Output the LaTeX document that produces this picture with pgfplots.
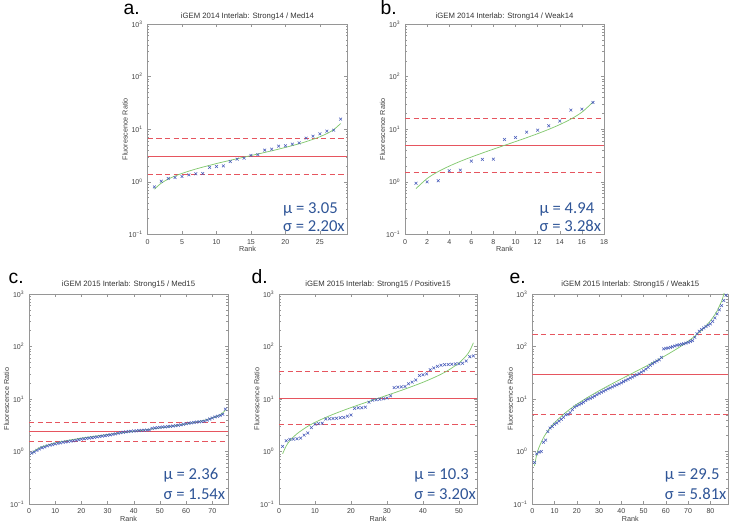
\documentclass[border=0pt]{standalone}
\usepackage{pgfplots}
\pgfplotsset{compat=1.18}
\usepackage{fontspec}
\setmainfont{Liberation Sans}
\newfontfamily\calib{Carlito}
\definecolor{mblue}{RGB}{70,90,185}
\definecolor{mred}{RGB}{230,85,95}
\definecolor{mgreen}{RGB}{130,200,110}
\definecolor{txtblue}{RGB}{47,85,151}
\definecolor{axgray}{RGB}{150,150,150}
\newcommand\tp[1]{10\textsuperscript{#1}}
\pgfplotsset{
  every axis/.append style={
    scale only axis, height=157.5pt,
    ymode=log, ymin=0.1, ymax=1000, xmin=0,
    ytick={0.1,1,10,100,1000},
    yticklabels={\tp{−1},\tp{0},\tp{1},\tp{2},\tp{3}},
    tick align=inside,
    axis line style={axgray, line width=0.4pt},
    tick style={axgray, line width=0.35pt},
    major tick length=2.5pt, minor tick length=1.4pt,
    xticklabel style={/pgf/number format/assume math mode=true},
    tick label style={font=\fontsize{5.3}{6}\selectfont, text=black!75},
    xlabel style={font=\fontsize{5.4}{6}\selectfont, text=black!75, at={(axis description cs:0.5,-0.07)}, anchor=center},
    ylabel style={font=\fontsize{5.4}{6}\selectfont, text=black!75, at={(axis description cs:-0.1125,0.5)}, anchor=center},
    xlabel={Rank}, ylabel={Fluorescence Ratio},
  },
  mydat/.style={only marks, mark=x, mark size=1.5pt, color=mblue, mark options={line width=0.4pt}},
  myfit/.style={color=mgreen, line width=0.55pt, no marks, smooth},
  mymean/.style={color=mred, draw=mred, line width=0.75pt, line cap=butt, no marks},
  myband/.style={color=mred, draw=mred, line width=0.75pt, line cap=butt, dash pattern=on 4pt off 2.5pt, no marks},
}
\tikzset{myann/.style={anchor=base west, font=\calib\fontsize{12.5}{13}\selectfont, text=txtblue},
  mytitle/.style={anchor=base, font=\fontsize{5.8}{6}\selectfont, text=black!80},
  mylet/.style={anchor=base west, font=\fontsize{14.5}{15}\selectfont}}
\begin{document}
\begin{tikzpicture}
\path[use as bounding box] (0,0) rectangle (549.75pt,392.25pt);
\node[mylet] at (89.25pt,381pt) {a.};
\node[mylet] at (282pt,381pt) {b.};
\node[mylet] at (3pt,179.25pt) {c.};
\node[mylet] at (185.25pt,179.25pt) {d.};
\node[mylet] at (378.75pt,179.25pt) {e.};
\node[mytitle] at (185.6pt,378.3pt) {iGEM 2014 Interlab: Strong14 / Med14};
\node[mytitle] at (378.4pt,378.3pt) {iGEM 2014 Interlab: Strong14 / Weak14};
\node[mytitle] at (96.4pt,177.5pt) {iGEM 2015 Interlab: Strong15 / Med15};
\node[mytitle] at (283.5pt,177.5pt) {iGEM 2015 Interlab: Strong15 / Positive15};
\node[mytitle] at (472.7pt,177.5pt) {iGEM 2015 Interlab: Strong15 / Weak15};

% ---------- a ----------
\begin{axis}[at={(110.625pt,216.375pt)}, anchor=south west, width=150pt, height=157.9pt,
  xmax=29, xtick={0,5,10,15,20,25}]
\addplot[mymean] coordinates {(0,3.05) (29,3.05)};
\addplot[myband] coordinates {(0,6.71) (29,6.71)};
\addplot[myband] coordinates {(0,1.386) (29,1.386)};
\addplot[myfit] coordinates {(1,0.727)(2,0.947)(3,1.128)(4,1.291)(5,1.448)(7,1.753)(10,2.227)(12,2.568)(14.5,3.05)(17,3.622)(19,4.178)(22,5.305)(24,6.425)(25,7.20)(26,8.25)(27,9.82)(28,12.80)};
\addplot[mydat] table[x expr=\coordindex+1, y index=0, header=false] {
0.80
1.03
1.16
1.21
1.27
1.36
1.42
1.44
1.88
1.96
2.01
2.44
2.70
2.82
3.18
3.29
4.01
4.19
4.77
4.85
5.21
5.51
6.77
7.39
8.18
9.20
9.61
15.6
};
\node[myann] at (rel axis cs:0.655,0.101) {μ = 3.05};
\node[myann] at (rel axis cs:0.655,0.013) {σ = 2.20x};
\end{axis}

% ---------- b ----------
\begin{axis}[at={(303.75pt,216.375pt)}, anchor=south west, width=149.25pt, height=157.9pt,
  xmax=18, xtick={0,2,...,18}]
\addplot[myband] coordinates {(0,16.20) (18,16.20)};
\addplot[myband] coordinates {(0,1.506) (18,1.506)};
\addplot[mymean] coordinates {(0,4.94) (18,4.94)};
\addplot[myfit] coordinates {(1,0.745)(2,1.158)(3,1.566)(4,1.991)(5,2.454)(6,2.961)(7,3.533)(8,4.185)(9,4.94)(10,5.832)(11,6.907)(12,8.240)(13,9.944)(14,12.255)(15,15.58)(16,21.07)(17,32.76)};
\addplot[mydat] table[x expr=\coordindex+1, y index=0, header=false] {
0.94
1.00
1.05
1.62
1.67
2.48
2.67
2.70
6.40
6.98
8.81
9.6
11.6
14.3
23.1
24.1
32.3
};
\node[myann] at (rel axis cs:0.653,0.101) {μ = 4.94};
\node[myann] at (rel axis cs:0.653,0.013) {σ = 3.28x};
\end{axis}

% ---------- c ----------
\begin{axis}[at={(21.75pt,14.25pt)}, anchor=south west, width=149.25pt,
  xmax=76, xtick={0,10,...,70}]
\addplot[mymean] coordinates {(0,2.36) (76,2.36)};
\addplot[myband] coordinates {(0,3.634) (76,3.634)};
\addplot[myband] coordinates {(0,1.532) (76,1.532)};
\addplot[myfit] coordinates {(1,0.905)(2,1.022)(3,1.105)(5,1.231)(10,1.456)(15,1.634)(20,1.795)(25,1.949)(30,2.103)(35,2.261)(38,2.36)(41,2.463)(46,2.648)(51,2.857)(56,3.103)(61,3.408)(66,3.833)(71,4.525)(73,5.04)(74,5.45)(75,6.155)};
\addplot[mydat] table[x expr=\coordindex+1, y index=0, header=false] {
0.93
0.98
1.05
1.12
1.18
1.22
1.28
1.32
1.35
1.40
1.43
1.46
1.50
1.52
1.55
1.58
1.60
1.63
1.67
1.72
1.75
1.78
1.80
1.83
1.87
1.90
1.93
1.97
2.00
2.04
2.08
2.12
2.17
2.22
2.28
2.33
2.37
2.40
2.43
2.46
2.48
2.50
2.52
2.54
2.56
2.58
2.75
2.80
2.85
2.88
2.92
2.95
2.98
3.02
3.06
3.10
3.15
3.22
3.30
3.38
3.45
3.52
3.58
3.63
3.68
3.72
3.78
3.95
4.15
4.35
4.55
4.70
4.85
5.10
6.40
};
\node[myann] at (rel axis cs:0.653,0.115) {μ = 2.36};
\node[myann] at (rel axis cs:0.653,0.02) {σ = 1.54x};
\end{axis}

% ---------- d ----------
\begin{axis}[at={(209.25pt,14.25pt)}, anchor=south west, width=148.5pt,
  xmax=55, xtick={0,10,...,50}]
\addplot[mymean] coordinates {(0,10.3) (55,10.3)};
\addplot[myband] coordinates {(0,32.96) (55,32.96)};
\addplot[myband] coordinates {(0,3.219) (55,3.219)};
\addplot[myfit] coordinates {(1,0.902)(2,1.276)(3,1.596)(5,2.179)(8,3.016)(11,3.870)(15,5.095)(20,6.863)(24,8.551)(27.5,10.3)(31,12.41)(35,15.46)(40,20.82)(44,27.42)(47,35.18)(50,48.68)(52,66.49)(53,83.13)(54,117.6)};
\addplot[mydat] table[x expr=\coordindex+1, y index=0, header=false] {
1.25
1.6
1.7
1.72
1.75
1.8
2.05
2.25
2.85
3.3
3.4
3.45
4.15
4.2
4.25
4.3
4.4
4.45
4.7
4.95
6.6
6.8
6.8
7.0
8.7
9.5
9.7
9.9
10.1
10.4
11.5
16.5
16.8
17.0
17.3
19.5
21
23
28
29
30
36
39
42
44
45
45.5
46
46.5
47
48
53
64
66
};
\node[myann] at (rel axis cs:0.66,0.115) {μ = 10.3};
\node[myann] at (rel axis cs:0.66,0.02) {σ = 3.20x};
\end{axis}

% ---------- e ----------
\begin{axis}[at={(399.2pt,14.25pt)}, anchor=south west, width=147pt,
  xmax=88, xtick={0,10,...,80}]
\addplot[mymean] coordinates {(0,29.5) (88,29.5)};
\addplot[myband] coordinates {(0,171.4) (88,171.4)};
\addplot[myband] coordinates {(0,5.077) (88,5.077)};
\addplot[myfit] coordinates {(1,0.535)(2,0.874)(3,1.191)(5,1.823)(7,2.475)(10,3.525)(15,5.525)(20,7.92)(25,10.80)(30,14.34)(35,18.70)(40,24.14)(44,29.5)(48,36.05)(53,46.53)(58,60.69)(63,80.56)(68,109.8)(73,157.5)(78,246.9)(81,351.6)(83,477.3)(85,730.7)(86,995.6)(87,1627)};
\addplot[mydat] table[x expr=\coordindex+1, y index=0, header=false] {
0.62
0.9
0.97
1.0
1.5
1.65
2.4
2.8
3.0
3.3
3.5
3.8
4.1
4.5
5.0
5.1
5.5
6.3
7.0
7.4
7.8
8.2
8.7
9.4
9.9
10.3
10.8
11.4
12.1
12.8
13.5
14.1
14.8
15.6
16.3
17.0
17.8
18.6
19.4
20.3
21.5
22.6
23.8
25.0
26.3
27.6
29
30.5
32.5
34.5
37
40
44
47
50
53
56
62
90
92
94
96
99
102
106
108
110
113
116
120
125
130
150
175
195
210
225
240
255
270
300
350
420
500
600
750
950
};
\node[myann] at (rel axis cs:0.653,0.115) {μ = 29.5};
\node[myann] at (rel axis cs:0.653,0.02) {σ = 5.81x};
\end{axis}
\end{tikzpicture}
\end{document}
